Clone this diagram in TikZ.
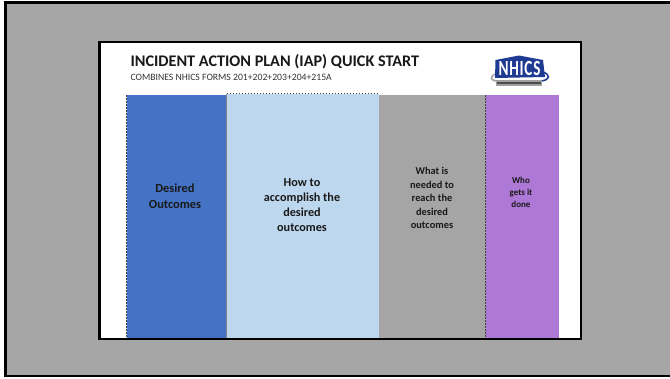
\documentclass[tikz,border=0pt]{standalone}
\usepackage{fontspec}
\setmainfont{Carlito}
\definecolor{bggrey}{HTML}{A6A6A6}
\definecolor{col1}{HTML}{4472C4}
\definecolor{col2}{HTML}{BDD7EE}
\definecolor{col3}{HTML}{A5A5A5}
\definecolor{col4}{HTML}{AE78D6}
\definecolor{nhicsblue}{HTML}{1F3A93}
\tikzset{
  colbox/.style={inner sep=0pt,outer sep=0pt,anchor=north west,align=center,font=\bfseries,text=black!90},
  seam/.style={black!75,line width=0.8pt,dash pattern=on 1.5pt off 1.5pt},
}
\begin{document}
\begin{tikzpicture}[x=1pt,y=-1pt]
\useasboundingbox (0,0) rectangle (670,378);
\fill[white] (0,0) rectangle (670,378);
\fill[bggrey] (5,2) rectangle (670,376);
\draw[black,line width=2.6pt] (670,2.4) -- (5.2,2.4) -- (5.2,376) -- (670,376);
\fill[white] (99.5,42) rectangle (581,339);
\draw[black,line width=2.4pt] (99.5,42) rectangle (581,339);
% columns
\fill[col1] (126.5,95) rectangle (226.5,338);
\fill[col2] (226.5,94) rectangle (378.5,338);
\fill[col3] (378.5,95) rectangle (485.5,338);
\fill[col4] (485.5,95) rectangle (559,338);
\draw[seam] (126.5,95) -- (126.5,338);
\draw[seam] (226.5,93.5) -- (378.5,93.5);
\draw[col3!80!black,line width=0.6pt] (226.5,94) -- (226.5,338);
\draw[seam] (485.5,95) -- (485.5,338);
% texts
\node[colbox,anchor=west,font=\fontsize{16.2}{19}\selectfont\bfseries] (title) at (130.5,61.5) {INCIDENT ACTION PLAN (IAP) QUICK START};
\node[colbox,anchor=west,font=\fontsize{9.7}{12}\selectfont,text=black!80] (sub) at (130.5,77) {COMBINES NHICS FORMS 201+202+203+204+215A};
\node[colbox,anchor=center,font=\fontsize{12.4}{15.5}\selectfont\bfseries] (c1) at (175,196) {Desired\\Outcomes};
\node[colbox,anchor=center,font=\fontsize{12.2}{15}\selectfont\bfseries] (c2) at (302,205.5) {How to\\accomplish the\\desired\\outcomes};
\node[colbox,anchor=center,font=\fontsize{10.4}{13.4}\selectfont\bfseries] (c3) at (432,198) {What is\\needed to\\reach the\\desired\\outcomes};
\node[colbox,anchor=center,font=\fontsize{9}{12}\selectfont\bfseries] (c4) at (521,192.5) {Who\\gets it\\done};
% logo
\draw[gray!70,line width=1.6pt] (495,74) .. controls (490,77) and (490,80) .. (496,81);
\draw[nhicsblue,line width=1.6pt] (543,72) .. controls (551,75) and (550,80) .. (541,81);
\fill[nhicsblue] (495.5,60) -- (519,55.5) -- (543,60) -- (545,77) -- (495,78) -- cycle;
\fill[gray!75] (496,80) rectangle (542,85.5);
\fill[black!70] (497,81.5) rectangle (541,84);
\node[inner sep=0pt,text=white,font=\fontsize{16}{16}\selectfont\bfseries,xscale=0.95,yscale=1.35] (logo) at (519.5,68) {N\kern0.8pt H\kern0.8pt I\kern0.8pt C\kern0.8pt S};
\end{tikzpicture}
\end{document}
